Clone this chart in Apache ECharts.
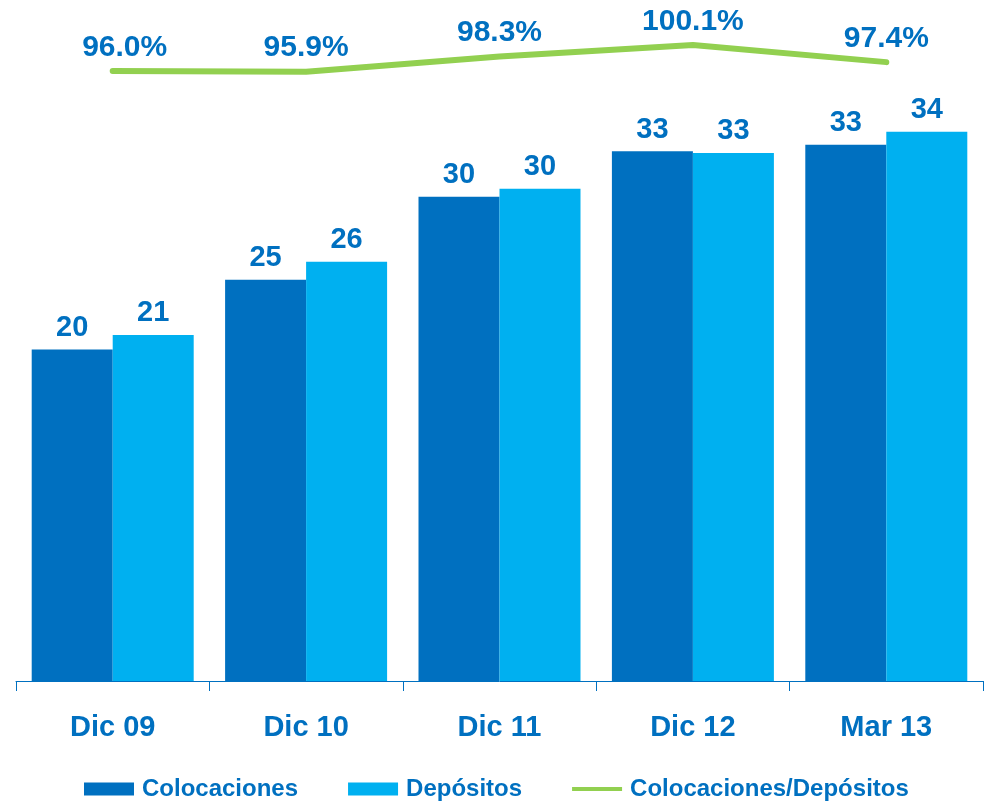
<!DOCTYPE html>
<html>
<head>
<meta charset="utf-8">
<script src="https://cdn.jsdelivr.net/npm/echarts@6/dist/echarts.min.js"></script>
<style>
html,body{margin:0;padding:0;background:#fff;}
#chart{width:988px;height:805px;}
</style>
</head>
<body>
<div id="chart"></div>
<script>
const categories = ['Dic 09', 'Dic 10', 'Dic 11', 'Dic 12', 'Mar 13'];
const colocaciones = [20.4, 24.7, 29.8, 32.6, 33.0];
const depositos = [21.3, 25.8, 30.3, 32.5, 33.8];
const ratio = [96.0, 95.9, 98.3, 100.1, 97.4];

const FONT = 'Liberation Sans, Arial, sans-serif';
const BLUE_TEXT = '#0070C0';

const chart = echarts.init(document.getElementById('chart'));
chart.setOption({
  animation: false,
  backgroundColor: '#ffffff',
  grid: { left: 16, right: 5, top: 31, bottom: 124, containLabel: false },
  legend: {
    bottom: -1,
    left: 79,
    itemWidth: 50,
    itemHeight: 13,
    itemGap: 50,
    textStyle: { color: BLUE_TEXT, fontFamily: FONT, fontWeight: 'bold', fontSize: 24, padding: [0, 0, 0, 3] },
    data: [
      { name: 'Colocaciones', icon: 'rect' },
      { name: 'Depósitos', icon: 'rect' },
      { name: 'Colocaciones/Depósitos', icon: 'path://M0,0L50,0L50,4L0,4Z' }
    ]
  },
  xAxis: {
    type: 'category',
    data: categories,
    axisLine: { lineStyle: { color: '#0070C0', width: 1 } },
    axisTick: { show: true, length: 10, lineStyle: { color: '#0070C0' } },
    axisLabel: { color: BLUE_TEXT, fontFamily: FONT, fontWeight: 'bold', fontSize: 29, margin: 32 }
  },
  yAxis: [
    { type: 'value', min: 0, max: 40, show: false, splitLine: { show: false } },
    { type: 'value', min: 0, max: 102.3, show: false, splitLine: { show: false } }
  ],
  series: [
    {
      name: 'Colocaciones',
      type: 'bar',
      data: colocaciones,
      barWidth: 81,
      barGap: '0%',
      itemStyle: { color: '#0070C0' },
      label: {
        show: true, position: 'top', distance: 7,
        color: BLUE_TEXT, fontFamily: FONT, fontWeight: 'bold', fontSize: 29,
        formatter: p => Math.round(p.value).toString()
      }
    },
    {
      name: 'Depósitos',
      type: 'bar',
      data: depositos,
      barWidth: 81,
      barGap: '0%',
      itemStyle: { color: '#00B0F0' },
      label: {
        show: true, position: 'top', distance: 7,
        color: BLUE_TEXT, fontFamily: FONT, fontWeight: 'bold', fontSize: 29,
        formatter: p => Math.round(p.value).toString()
      }
    },
    {
      name: 'Colocaciones/Depósitos',
      type: 'line',
      yAxisIndex: 1,
      data: ratio.map((v, i) => i === 0 ? { value: v, label: { offset: [12, 0] } } : v),
      symbol: 'circle',
      symbolSize: 1,
      itemStyle: { color: '#92D050' },
      lineStyle: { color: '#92D050', width: 6, cap: 'round', join: 'round' },
      label: {
        show: true, position: 'top', distance: 8,
        color: BLUE_TEXT, fontFamily: FONT, fontWeight: 'bold', fontSize: 30,
        formatter: p => p.value.toFixed(1) + '%'
      },
      z: 5
    }
  ]
});
</script>
</body>
</html>
